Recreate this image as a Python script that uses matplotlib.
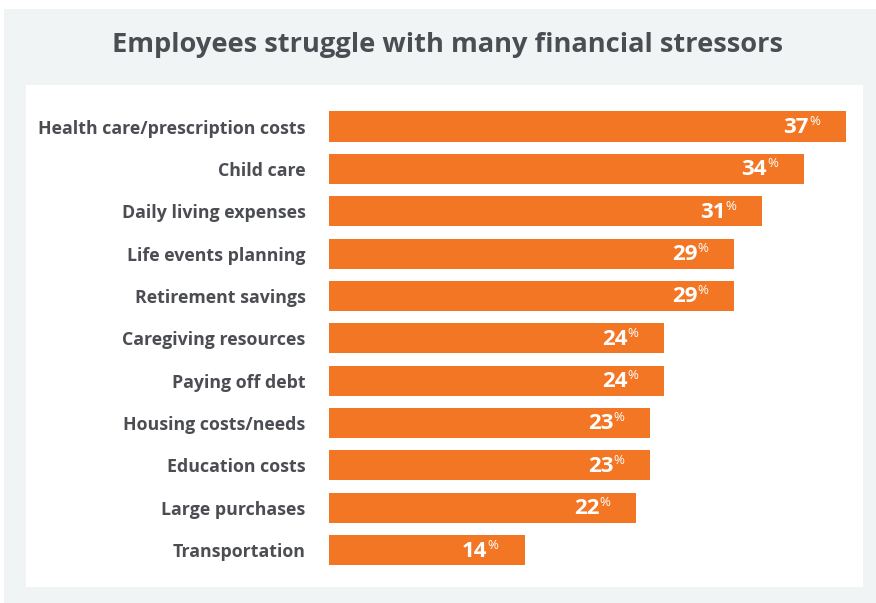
#!/usr/bin/env python3
"""Horizontal bar chart of financial stressors reported by employees."""

import matplotlib
matplotlib.use("Agg")
import matplotlib.pyplot as plt
from matplotlib.patches import Rectangle

# Data
CATEGORIES = [
    "Health care/prescription costs",
    "Child care",
    "Daily living expenses",
    "Life events planning",
    "Retirement savings",
    "Caregiving resources",
    "Paying off debt",
    "Housing costs/needs",
    "Education costs",
    "Large purchases",
    "Transportation",
]
PERCENTS = [37, 34, 31, 29, 29, 24, 24, 23, 23, 22, 14]
TITLE = "Employees struggle with many financial stressors"

# Styling
FIG_W, FIG_H, DPI = 876, 603, 100
BG_GRAY = "#f1f4f5"
BAR_COLOR = "#f37624"
TEXT_COLOR = "#4b4d53"
FONT = ["Open Sans", "DejaVu Sans"]


def px_box(x0, y0, x1, y1):
    """Convert a pixel box (top-left origin) into figure fractions."""
    return (x0 / FIG_W, 1 - y1 / FIG_H, (x1 - x0) / FIG_W, (y1 - y0) / FIG_H)


def main():
    plt.rcParams["font.family"] = FONT
    fig = plt.figure(figsize=(FIG_W / DPI, FIG_H / DPI), dpi=DPI)
    fig.patch.set_facecolor("white")

    # gray card and the white plotting panel inside it
    x, y, w, h = px_box(4, 9, 876, 603)
    fig.add_artist(Rectangle((x, y), w, h, transform=fig.transFigure,
                             facecolor=BG_GRAY, edgecolor="none", zorder=0))
    x, y, w, h = px_box(26, 85, 863, 587)
    fig.add_artist(Rectangle((x, y), w, h, transform=fig.transFigure,
                             facecolor="white", edgecolor="none", zorder=0))

    fig.text(448 / FIG_W, 1 - 45 / FIG_H, TITLE, ha="center", va="center",
             fontsize=19.6, fontweight="bold", color=TEXT_COLOR)

    n = len(CATEGORIES)
    row = 42.35
    top = 126.5 - row / 2
    ax = fig.add_axes(px_box(329, top, 846, top + row * n))
    ax.set_facecolor("none")

    pos = list(range(n))
    ax.barh(pos, PERCENTS, height=0.71, color=BAR_COLOR, zorder=2)
    ax.set_xlim(0, max(PERCENTS))
    ax.set_ylim(n - 0.5, -0.5)

    ax.set_yticks(pos)
    ax.set_yticklabels(CATEGORIES, fontsize=12.8, fontweight="bold", color=TEXT_COLOR)
    ax.tick_params(axis="y", length=0, pad=17)
    ax.set_xticks([])
    for spine in ax.spines.values():
        spine.set_visible(False)

    # value labels: bold number with a small raised percent sign
    for p, v in zip(pos, PERCENTS):
        ax.annotate(f"{v}", xy=(v, p), xytext=(-37, -1), textcoords="offset pixels",
                    ha="right", va="center", fontsize=16, fontweight="bold",
                    color="white", zorder=3)
        ax.annotate("%", xy=(v, p), xytext=(-26, 5), textcoords="offset pixels",
                    ha="right", va="center", fontsize=9.5, color="white", zorder=3)

    fig.savefig("out.png", dpi=DPI, facecolor=fig.get_facecolor())
    plt.close(fig)


if __name__ == "__main__":
    main()
